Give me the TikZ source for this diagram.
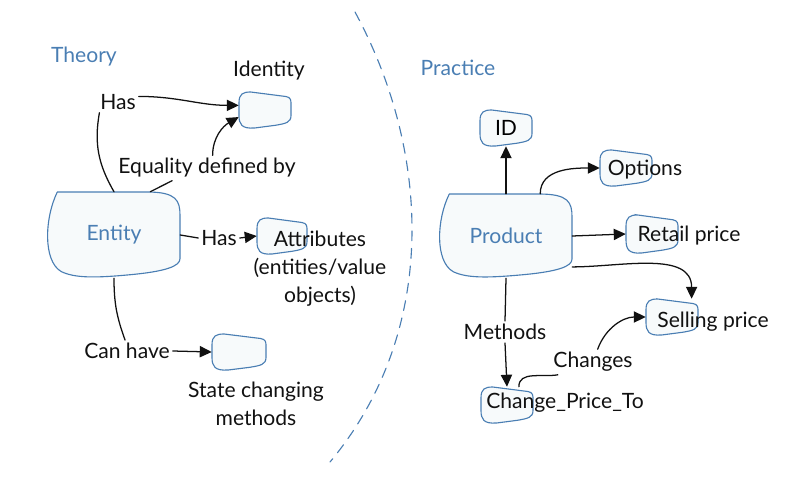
\documentclass[tikz,border=0pt]{standalone}
\usepackage{fontspec}
\setmainfont{Lato}
\usetikzlibrary{arrows.meta,positioning}
\definecolor{azul}{HTML}{4A7EB3}
\definecolor{hielo}{HTML}{F7FAFB}
\definecolor{tinta}{HTML}{111111}

\tikzset{
  lbl/.style={font=\fontsize{15}{20}\selectfont, inner sep=2pt, align=center, text=tinta},
  titulo/.style={lbl, text=azul},
  hold/.style={rectangle, inner sep=0pt, font=\fontsize{15}{20}\selectfont},
  enlace/.style={tinta, line width=0.9pt},
  flecha/.style={enlace, -{Triangle[length=8.5pt,width=8pt]}},
  blobline/.style={azul, line width=0.8pt, fill=hielo},
  bigblob/.pic={
    \draw[blobline] (-0.86,-1) -- (0.5,-1) .. controls (0.95,-1) and (1,-0.8) .. (1,-0.45)
      -- (1,0.55) .. controls (1,0.72) and (0.8,0.85) .. (0.2,0.93)
      .. controls (-0.3,1) and (-0.6,1) .. (-0.8,0.85)
      .. controls (-1.08,0.6) and (-1.05,-0.4) .. cycle;
  },
  smallblob/.pic={
    \draw[blobline] (-0.55,-1) -- (0.8,-0.75) .. controls (1,-0.7) and (1,-0.55) .. (1,-0.3)
      -- (1,0.3) .. controls (1,0.7) and (0.8,0.75) .. (0.4,0.85) -- (-0.4,1)
      .. controls (-0.9,1.05) and (-1,0.8) .. (-1,0.3) -- (-1,-0.4)
      .. controls (-1,-0.9) and (-0.85,-1) .. cycle;
  }
}
% name, pic, centre, half width, half height, text
\newcommand{\blob}[6]{%
  \pic[xscale=#4,yscale=#5] at #3 {#2};
  \node[hold, minimum width={2*#4*0.025cm}, minimum height={2*#5*0.025cm}] (#1) at #3 {#6};}

\begin{document}
\begin{tikzpicture}[x=0.025cm,y=-0.025cm,line cap=round]
  \useasboundingbox (0,0) rectangle (807,485);
  % --- separador ---
  \draw[azul, line width=0.8pt, dash pattern=on 7pt off 5.5pt]
        (355,12) .. controls (430,150) and (440,330) .. (330,462);
  \node[titulo] (teoria) at (84,57) {Theory};
  \node[titulo] (practica) at (458,68) {Practice};
  % --- teoria ---
  \blob{ent}{bigblob}{(114,235)}{66}{43}{\color{azul}Entity}
  \blob{idb}{smallblob}{(265,110)}{26}{18}{}
  \blob{attb}{smallblob}{(282,236)}{25}{18}{}
  \blob{stb}{smallblob}{(239,352)}{27}{18}{}
  \node[lbl] (identidad) at (269,71) {Identity};
  \node[lbl] (has1) at (118,102) {Has};
  \node[lbl] (eq) at (207,168) {Equality defined by};
  \node[lbl] (has2) at (219,238) {Has};
  \node[lbl] (atrib) at (320,269) {Attributes\\(entities/value\\objects)};
  \node[lbl] (canh) at (127,351) {Can have};
  \node[lbl] (estado) at (256,404) {State changing\\methods};
  \draw[enlace] (has1.210) to[out=260,in=120] (ent.north);
  \draw[flecha] (has1.15) to[out=0,in=180] (idb.170);
  \draw[enlace] (ent.50) -- (eq.200);
  \draw[flecha] ([xshift=4pt]eq.north) to[out=90,in=210] (idb.195);
  \draw[enlace] (ent.east) -- (has2.west);
  \draw[flecha] (has2.east) -- (attb.west);
  \draw[enlace] (ent.south) to[out=270,in=110] (canh.100);
  \draw[flecha] (canh.east) -- (stb.west);
  % --- practica ---
  \blob{prod}{bigblob}{(506,236)}{66}{42}{\color{azul}Product}
  \blob{idp}{smallblob}{(506,128)}{26}{18}{ID}
  \blob{optb}{smallblob}{(626,168)}{26}{18}{}
  \blob{retb}{smallblob}{(652,234)}{26}{19}{}
  \blob{selb}{smallblob}{(672,317)}{26}{18}{}
  \blob{cpt}{smallblob}{(507,405)}{26}{18}{}
  \node[lbl] (opciones) at (645,170) {Options};
  \node[lbl] (retail) at (689,236) {Retail price};
  \node[lbl] (selling) at (713,322) {Selling price};
  \node[lbl] (metodos) at (505,332) {Methods};
  \node[lbl] (cambio) at (565,403) {Change\_Price\_To};
  \node[lbl] (chg) at (593,362) {Changes};
  \draw[flecha] (prod.north) -- (idp.south);
  \draw[flecha] (prod.51) to[out=90,in=180] (optb.west);
  \draw[flecha] (prod.east) -- (retb.west);
  \draw[flecha] (prod.-25) to[out=0,in=90] (selb.43);
  \draw[enlace] (prod.south) -- (metodos.north);
  \draw[flecha] (metodos.south) -- (cpt.north);
  \draw[enlace] (cpt.57) to[out=90,in=190] (chg.200);
  \draw[flecha] (chg.70) to[out=70,in=180] (selb.west);
\end{tikzpicture}
\end{document}
